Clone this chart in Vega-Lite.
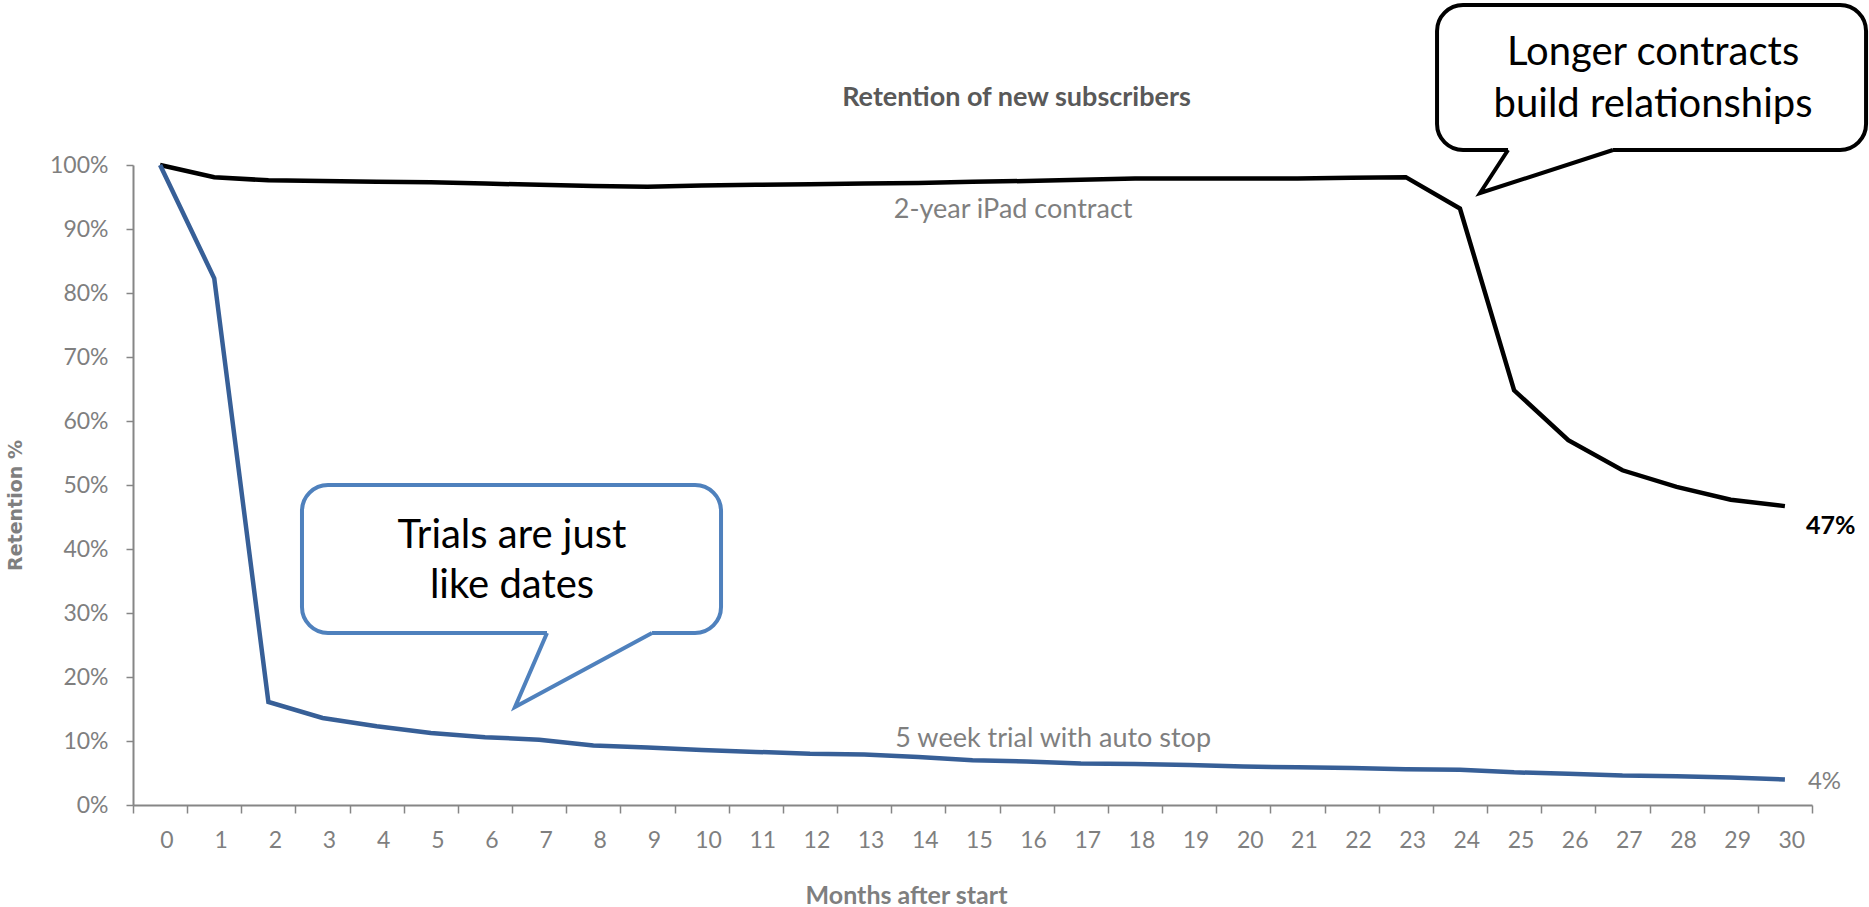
{
  "$schema": "https://vega.github.io/schema/vega-lite/v6.json",
  "width": 1679,
  "height": 640,
  "autosize": {"type": "none"},
  "padding": {"left": 133, "top": 165, "right": 57, "bottom": 102},
  "background": "#ffffff",
  "title": {
    "text": "Retention of new subscribers",
    "font": "Lato",
    "fontSize": 27,
    "fontWeight": "bold",
    "color": "#595959",
    "anchor": "middle",
    "frame": "group",
    "baseline": "alphabetic",
    "dx": 44,
    "offset": -130
  },
  "config": {
    "view": {"stroke": null},
    "font": "Lato",
    "text": {"font": "Lato"}
  },
  "datasets": {
    "retention": [
      {"month": 0, "series": "2-year iPad contract", "value": 1.0},
      {"month": 1, "series": "2-year iPad contract", "value": 0.981},
      {"month": 2, "series": "2-year iPad contract", "value": 0.976},
      {"month": 3, "series": "2-year iPad contract", "value": 0.975},
      {"month": 4, "series": "2-year iPad contract", "value": 0.974},
      {"month": 5, "series": "2-year iPad contract", "value": 0.973},
      {"month": 6, "series": "2-year iPad contract", "value": 0.971},
      {"month": 7, "series": "2-year iPad contract", "value": 0.969},
      {"month": 8, "series": "2-year iPad contract", "value": 0.967},
      {"month": 9, "series": "2-year iPad contract", "value": 0.966},
      {"month": 10, "series": "2-year iPad contract", "value": 0.968},
      {"month": 11, "series": "2-year iPad contract", "value": 0.969},
      {"month": 12, "series": "2-year iPad contract", "value": 0.970},
      {"month": 13, "series": "2-year iPad contract", "value": 0.971},
      {"month": 14, "series": "2-year iPad contract", "value": 0.972},
      {"month": 15, "series": "2-year iPad contract", "value": 0.974},
      {"month": 16, "series": "2-year iPad contract", "value": 0.975},
      {"month": 17, "series": "2-year iPad contract", "value": 0.977},
      {"month": 18, "series": "2-year iPad contract", "value": 0.979},
      {"month": 19, "series": "2-year iPad contract", "value": 0.979},
      {"month": 20, "series": "2-year iPad contract", "value": 0.979},
      {"month": 21, "series": "2-year iPad contract", "value": 0.979},
      {"month": 22, "series": "2-year iPad contract", "value": 0.980},
      {"month": 23, "series": "2-year iPad contract", "value": 0.981},
      {"month": 24, "series": "2-year iPad contract", "value": 0.932},
      {"month": 25, "series": "2-year iPad contract", "value": 0.648},
      {"month": 26, "series": "2-year iPad contract", "value": 0.570},
      {"month": 27, "series": "2-year iPad contract", "value": 0.523},
      {"month": 28, "series": "2-year iPad contract", "value": 0.497},
      {"month": 29, "series": "2-year iPad contract", "value": 0.477},
      {"month": 30, "series": "2-year iPad contract", "value": 0.467},
      {"month": 0, "series": "5 week trial with auto stop", "value": 1.0},
      {"month": 1, "series": "5 week trial with auto stop", "value": 0.823},
      {"month": 2, "series": "5 week trial with auto stop", "value": 0.161},
      {"month": 3, "series": "5 week trial with auto stop", "value": 0.136},
      {"month": 4, "series": "5 week trial with auto stop", "value": 0.123},
      {"month": 5, "series": "5 week trial with auto stop", "value": 0.1125},
      {"month": 6, "series": "5 week trial with auto stop", "value": 0.106},
      {"month": 7, "series": "5 week trial with auto stop", "value": 0.102},
      {"month": 8, "series": "5 week trial with auto stop", "value": 0.093},
      {"month": 9, "series": "5 week trial with auto stop", "value": 0.090},
      {"month": 10, "series": "5 week trial with auto stop", "value": 0.086},
      {"month": 11, "series": "5 week trial with auto stop", "value": 0.083},
      {"month": 12, "series": "5 week trial with auto stop", "value": 0.080},
      {"month": 13, "series": "5 week trial with auto stop", "value": 0.079},
      {"month": 14, "series": "5 week trial with auto stop", "value": 0.075},
      {"month": 15, "series": "5 week trial with auto stop", "value": 0.070},
      {"month": 16, "series": "5 week trial with auto stop", "value": 0.068},
      {"month": 17, "series": "5 week trial with auto stop", "value": 0.065},
      {"month": 18, "series": "5 week trial with auto stop", "value": 0.064},
      {"month": 19, "series": "5 week trial with auto stop", "value": 0.0625},
      {"month": 20, "series": "5 week trial with auto stop", "value": 0.060},
      {"month": 21, "series": "5 week trial with auto stop", "value": 0.059},
      {"month": 22, "series": "5 week trial with auto stop", "value": 0.058},
      {"month": 23, "series": "5 week trial with auto stop", "value": 0.056},
      {"month": 24, "series": "5 week trial with auto stop", "value": 0.055},
      {"month": 25, "series": "5 week trial with auto stop", "value": 0.051},
      {"month": 26, "series": "5 week trial with auto stop", "value": 0.049},
      {"month": 27, "series": "5 week trial with auto stop", "value": 0.046},
      {"month": 28, "series": "5 week trial with auto stop", "value": 0.045},
      {"month": 29, "series": "5 week trial with auto stop", "value": 0.043},
      {"month": 30, "series": "5 week trial with auto stop", "value": 0.040}
    ],
    "seriesLabels": [
      {"text": "2-year iPad contract", "month": 15.75, "value": 0.93},
      {"text": "5 week trial with auto stop", "month": 16.49, "value": 0.103}
    ],
    "calloutBoxes": [
      {"id": "trial", "month": 2.62, "month2": 10.357, "value": 0.5, "value2": 0.26875},
      {"id": "contract", "month": 23.577, "month2": 31.498, "value": 1.25, "value2": 1.0234}
    ],
    "calloutTailBases": [
      {"id": "trial", "month": 7.144, "month2": 9.083, "value": 0.26875},
      {"id": "contract", "month": 24.888, "month2": 26.826, "value": 1.0234}
    ],
    "calloutTails": [
      {"id": "trial", "i": 0, "month": 7.144, "value": 0.26875},
      {"id": "trial", "i": 1, "month": 6.553, "value": 0.153},
      {"id": "trial", "i": 2, "month": 9.083, "value": 0.26875},
      {"id": "contract", "i": 0, "month": 24.888, "value": 1.0234},
      {"id": "contract", "i": 1, "month": 24.371, "value": 0.95625},
      {"id": "contract", "i": 2, "month": 26.826, "value": 1.0234}
    ],
    "calloutText": [
      {"text": "Trials are just", "month": 6.498, "value": 0.4016},
      {"text": "like dates", "month": 6.498, "value": 0.3234},
      {"text": "Longer contracts", "month": 27.565, "value": 1.1563},
      {"text": "build relationships", "month": 27.565, "value": 1.075}
    ]
  },
  "layer": [
    {
      "data": {"name": "retention"},
      "mark": {"type": "line", "strokeWidth": 4.5},
      "encoding": {
        "x": {
          "field": "month",
          "type": "quantitative",
          "scale": {"domain": [-0.5, 30.5], "nice": false, "zero": false},
          "axis": {
            "title": "Months after start",
            "values": [-0.5, 0.5, 1.5, 2.5, 3.5, 4.5, 5.5, 6.5, 7.5, 8.5, 9.5, 10.5, 11.5, 12.5, 13.5, 14.5, 15.5, 16.5, 17.5, 18.5, 19.5, 20.5, 21.5, 22.5, 23.5, 24.5, 25.5, 26.5, 27.5, 28.5, 29.5, 30.5],
            "labelExpr": "datum.value > 30 ? '' : format(datum.value + 0.5, 'd')",
            "labelOffset": 33.5,
            "labelPadding": 34,
            "labelBaseline": "alphabetic",
            "labelFlush": false,
            "labelOverlap": false,
            "labelFont": "Lato",
            "labelFontSize": 23,
            "labelColor": "#7F7F7F",
            "tickSize": 8,
            "tickColor": "#868686",
            "tickWidth": 1.5,
            "domainColor": "#868686",
            "domainWidth": 2,
            "grid": false,
            "titleFont": "Lato",
            "titleFontSize": 25,
            "titleFontWeight": "bold",
            "titleColor": "#7F7F7F",
            "titleX": 773,
            "titleY": 98,
            "titleBaseline": "alphabetic",
            "titleAlign": "center"
          }
        },
        "y": {
          "field": "value",
          "type": "quantitative",
          "scale": {"domain": [0, 1], "nice": false},
          "axis": {
            "title": "Retention %",
            "values": [0, 0.1, 0.2, 0.3, 0.4, 0.5, 0.6, 0.7, 0.8, 0.9, 1],
            "format": ".0%",
            "labelFont": "Lato",
            "labelFontSize": 23,
            "labelColor": "#7F7F7F",
            "labelPadding": 18,
            "labelFlush": false,
            "labelOverlap": false,
            "tickSize": 7,
            "tickColor": "#868686",
            "tickWidth": 1.5,
            "domainColor": "#868686",
            "domainWidth": 2,
            "grid": false,
            "titleFont": "DejaVu Sans",
            "titleFontSize": 19,
            "titleFontWeight": "bold",
            "titleColor": "#7F7F7F",
            "titleX": -118,
            "titleY": 340,
            "titleBaseline": "middle",
            "titleAlign": "center"
          }
        },
        "color": {
          "field": "series",
          "type": "nominal",
          "scale": {"domain": ["2-year iPad contract", "5 week trial with auto stop"], "range": ["#000000", "#375F97"]},
          "legend": null
        }
      }
    },
    {
      "data": {"name": "retention"},
      "transform": [{"filter": "datum.month == 30 && datum.series == '2-year iPad contract'"}],
      "mark": {"type": "text", "align": "left", "baseline": "middle", "dx": 21, "dy": 20, "fontSize": 25, "fontWeight": "bold", "color": "#000000"},
      "encoding": {
        "x": {"field": "month", "type": "quantitative"},
        "y": {"field": "value", "type": "quantitative"},
        "text": {"field": "value", "type": "quantitative", "format": ".0%"}
      }
    },
    {
      "data": {"name": "retention"},
      "transform": [{"filter": "datum.month == 30 && datum.series == '5 week trial with auto stop'"}],
      "mark": {"type": "text", "align": "left", "baseline": "middle", "dx": 23, "dy": 3, "fontSize": 24, "color": "#7F7F7F"},
      "encoding": {
        "x": {"field": "month", "type": "quantitative"},
        "y": {"field": "value", "type": "quantitative"},
        "text": {"field": "value", "type": "quantitative", "format": ".0%"}
      }
    },
    {
      "data": {"name": "seriesLabels"},
      "mark": {"type": "text", "align": "center", "baseline": "middle", "fontSize": 27, "color": "#7F7F7F"},
      "encoding": {
        "x": {"field": "month", "type": "quantitative"},
        "y": {"field": "value", "type": "quantitative"},
        "text": {"field": "text", "type": "nominal"}
      }
    },
    {
      "data": {"name": "calloutBoxes"},
      "mark": {"type": "rect", "cornerRadius": 26, "strokeWidth": 4, "fill": "#ffffff"},
      "encoding": {
        "x": {"field": "month", "type": "quantitative"},
        "x2": {"field": "month2"},
        "y": {"field": "value", "type": "quantitative"},
        "y2": {"field": "value2"},
        "stroke": {
          "field": "id",
          "type": "nominal",
          "scale": {"domain": ["trial", "contract"], "range": ["#4F81BD", "#000000"]},
          "legend": null
        }
      }
    },
    {
      "data": {"name": "calloutTailBases"},
      "mark": {"type": "rule", "strokeWidth": 6, "color": "#ffffff", "strokeCap": "butt"},
      "encoding": {
        "x": {"field": "month", "type": "quantitative"},
        "x2": {"field": "month2"},
        "y": {"field": "value", "type": "quantitative"}
      }
    },
    {
      "data": {"name": "calloutTails"},
      "mark": {"type": "line", "strokeWidth": 4, "strokeJoin": "miter"},
      "encoding": {
        "x": {"field": "month", "type": "quantitative"},
        "y": {"field": "value", "type": "quantitative"},
        "order": {"field": "i", "type": "quantitative"},
        "stroke": {
          "field": "id",
          "type": "nominal",
          "scale": {"domain": ["trial", "contract"], "range": ["#4F81BD", "#000000"]},
          "legend": null
        }
      }
    },
    {
      "data": {"name": "calloutText"},
      "mark": {"type": "text", "align": "center", "baseline": "alphabetic", "fontSize": 40, "color": "#000000"},
      "encoding": {
        "x": {"field": "month", "type": "quantitative"},
        "y": {"field": "value", "type": "quantitative"},
        "text": {"field": "text", "type": "nominal"}
      }
    }
  ]
}
